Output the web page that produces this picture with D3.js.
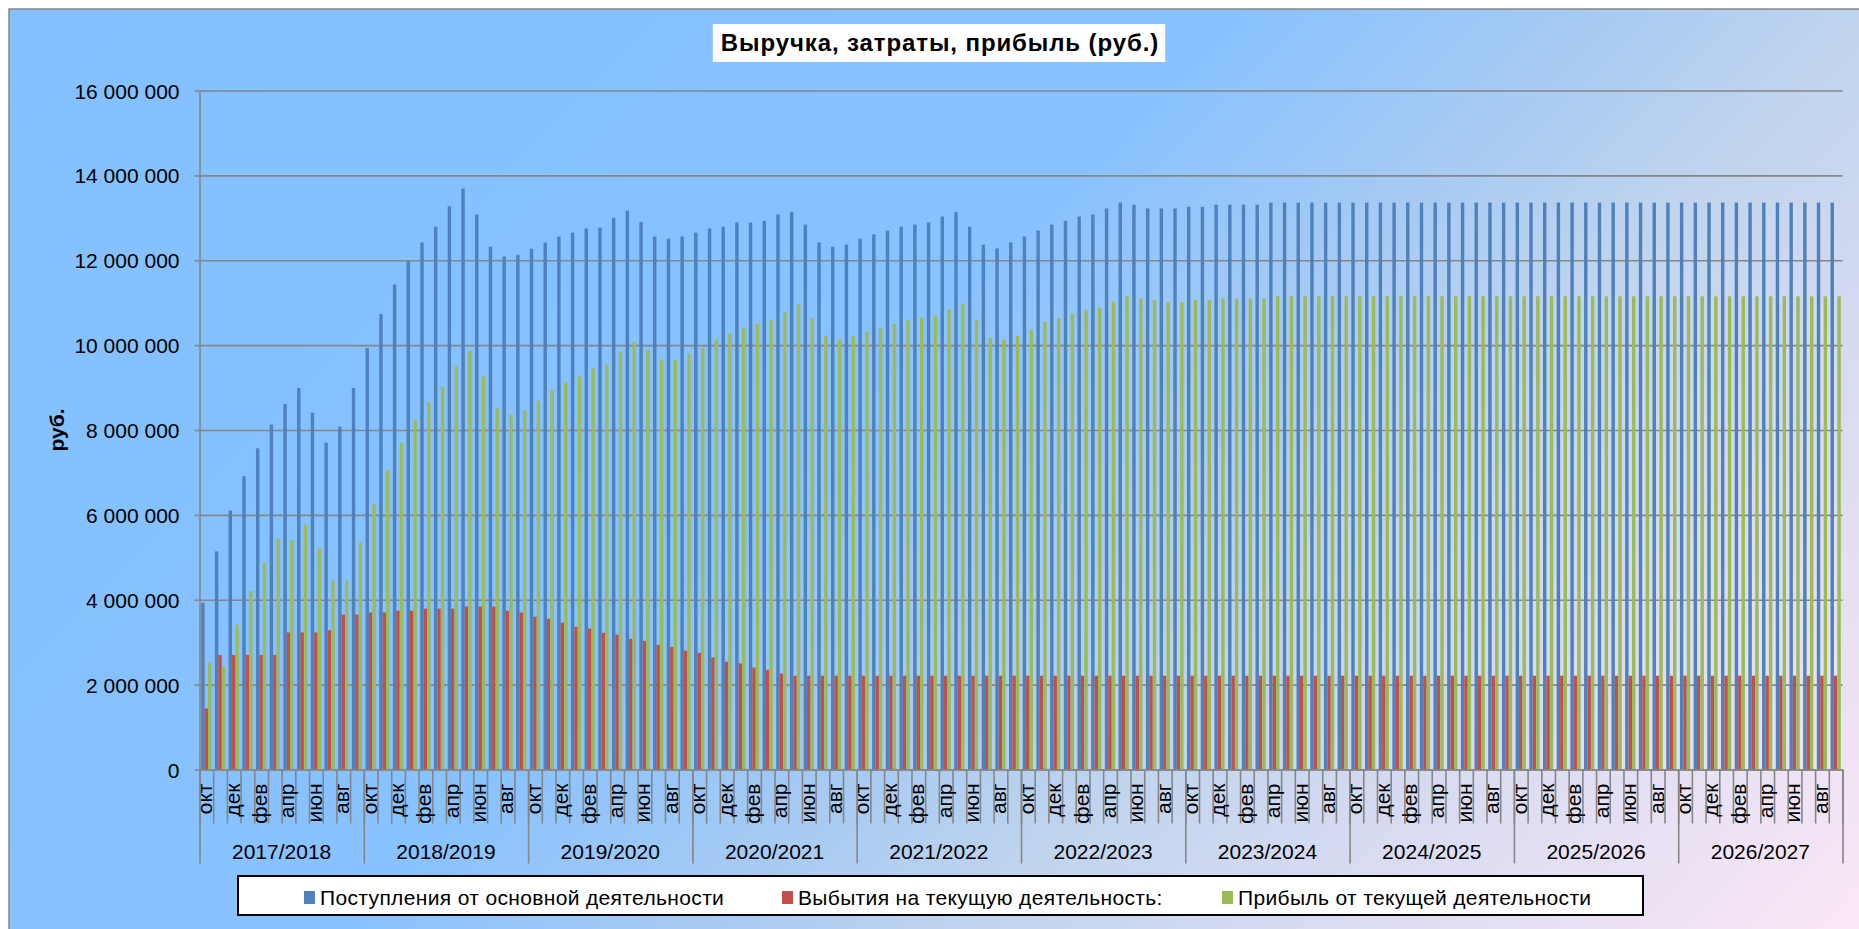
<!DOCTYPE html>
<html>
<head>
<meta charset="utf-8">
<script src="https://cdn.jsdelivr.net/npm/d3@7"></script>
<style>
  html, body { margin: 0; padding: 0; background: #ffffff; }
  svg { display: block; }
  text { font-family: "Liberation Sans", Arial, sans-serif; fill: #000; }
</style>
</head>
<body>
<svg id="chart" width="1859" height="929"></svg>
<script>
// ---------------- DATA ----------------
const titleText = "Выручка, затраты, прибыль (руб.)";
const yAxisTitle = "руб.";
const months = ["окт","ноя","дек","янв","фев","мар","апр","май","июн","июл","авг","сен"];
const years = ["2017/2018","2018/2019","2019/2020","2020/2021","2021/2022",
               "2022/2023","2023/2024","2024/2025","2025/2026","2026/2027"];
const seriesNames = ["Поступления от основной деятельности",
                     "Выбытия на текущую деятельность:",
                     "Прибыль от текущей деятельности"];
const yTicks = [0, 2000000, 4000000, 6000000, 8000000, 10000000, 12000000, 14000000, 16000000];

// Поступления от основной деятельности (12 values per fiscal year)
const revenue = [
  3930000, 5140000, 6100000, 6910000, 7570000, 8130000, 8610000, 8990000, 8410000, 7700000, 8080000, 8990000,
  9930000, 10730000, 11430000, 11980000, 12420000, 12790000, 13270000, 13690000, 13080000, 12320000, 12090000, 12130000,
  12270000, 12420000, 12560000, 12650000, 12750000, 12770000, 13000000, 13170000, 12900000, 12560000, 12510000, 12560000,
  12650000, 12750000, 12790000, 12890000, 12890000, 12930000, 13080000, 13140000, 12840000, 12420000, 12320000, 12370000,
  12510000, 12610000, 12700000, 12790000, 12840000, 12890000, 13030000, 13140000, 12790000, 12370000, 12280000, 12420000,
  12560000, 12700000, 12840000, 12930000, 13030000, 13080000, 13220000, 13360000, 13310000, 13220000, 13220000, 13220000,
  13260000, 13260000, 13310000, 13310000, 13310000, 13310000, 13360000, 13360000, 13360000, 13360000, 13360000, 13360000,
  13360000, 13360000, 13360000, 13360000, 13360000, 13360000, 13360000, 13360000, 13360000, 13360000, 13360000, 13360000,
  13360000, 13360000, 13360000, 13360000, 13360000, 13360000, 13360000, 13360000, 13360000, 13360000, 13360000, 13360000,
  13360000, 13360000, 13360000, 13360000, 13360000, 13360000, 13360000, 13360000, 13360000, 13360000, 13360000, 13360000
];

// Выбытия на текущую деятельность
const expenses = [
  1440000, 2700000, 2700000, 2700000, 2700000, 2700000, 3230000, 3230000, 3230000, 3280000, 3650000, 3650000,
  3700000, 3700000, 3740000, 3740000, 3790000, 3790000, 3790000, 3840000, 3840000, 3840000, 3740000, 3700000,
  3600000, 3550000, 3460000, 3360000, 3320000, 3220000, 3180000, 3080000, 3030000, 2940000, 2890000, 2800000,
  2750000, 2640000, 2540000, 2500000, 2400000, 2350000, 2260000, 2210000, 2210000, 2210000, 2210000, 2210000,
  2210000, 2210000, 2210000, 2210000, 2210000, 2210000, 2210000, 2210000, 2210000, 2210000, 2210000, 2210000,
  2210000, 2210000, 2210000, 2210000, 2210000, 2210000, 2210000, 2210000, 2210000, 2210000, 2210000, 2210000,
  2210000, 2210000, 2210000, 2210000, 2210000, 2210000, 2210000, 2210000, 2210000, 2210000, 2210000, 2210000,
  2210000, 2210000, 2210000, 2210000, 2210000, 2210000, 2210000, 2210000, 2210000, 2210000, 2210000, 2210000,
  2210000, 2210000, 2210000, 2210000, 2210000, 2210000, 2210000, 2210000, 2210000, 2210000, 2210000, 2210000,
  2210000, 2210000, 2210000, 2210000, 2210000, 2210000, 2210000, 2210000, 2210000, 2210000, 2210000, 2210000
];

// Прибыль от текущей деятельности
const profit = [
  2520000, 2430000, 3410000, 4210000, 4870000, 5440000, 5400000, 5770000, 5210000, 4450000, 4450000, 5350000,
  6250000, 7050000, 7700000, 8220000, 8650000, 9020000, 9500000, 9870000, 9260000, 8510000, 8360000, 8460000,
  8690000, 8930000, 9120000, 9260000, 9450000, 9540000, 9850000, 10080000, 9890000, 9660000, 9660000, 9800000,
  9940000, 10130000, 10270000, 10410000, 10500000, 10600000, 10780000, 10970000, 10640000, 10220000, 10130000, 10220000,
  10310000, 10410000, 10500000, 10600000, 10640000, 10690000, 10830000, 10970000, 10600000, 10170000, 10130000, 10220000,
  10360000, 10550000, 10640000, 10740000, 10830000, 10880000, 11020000, 11150000, 11100000, 11060000, 11010000, 11010000,
  11060000, 11060000, 11100000, 11100000, 11100000, 11100000, 11150000, 11150000, 11150000, 11150000, 11150000, 11150000,
  11150000, 11150000, 11150000, 11150000, 11150000, 11150000, 11150000, 11150000, 11150000, 11150000, 11150000, 11150000,
  11150000, 11150000, 11150000, 11150000, 11150000, 11150000, 11150000, 11150000, 11150000, 11150000, 11150000, 11150000,
  11150000, 11150000, 11150000, 11150000, 11150000, 11150000, 11150000, 11150000, 11150000, 11150000, 11150000, 11150000
];

// ---------------- STYLE / LAYOUT ----------------
const colors = ["#4f81bd", "#c0504d", "#9bbb59"];
const gridColor = "#868686";
const plot = { left: 199.5, right: 1842.5, top: 90.5, bottom: 769.5 };
const fontSize = 21;

const svg = d3.select("#chart");

// background gradient
const defs = svg.append("defs");
const grad = defs.append("linearGradient")
  .attr("id", "bg").attr("gradientUnits", "userSpaceOnUse")
  .attr("x1", 0).attr("y1", 0).attr("x2", 1414).attr("y2", 1383);
[[0, "#84c0ff"], [0.45, "#88c2ff"], [0.59, "#a9cbf2"], [0.68, "#c0d4ee"], [0.82, "#dcdcf2"], [1, "#fbe7f6"]]
  .forEach(([o, c]) => grad.append("stop").attr("offset", o).attr("stop-color", c));

svg.append("rect").attr("x", 0).attr("y", 0).attr("width", 1859).attr("height", 929).attr("fill", "#ffffff");
svg.append("rect").attr("x", 9).attr("y", 9).attr("width", 1870).attr("height", 940)
  .attr("fill", "url(#bg)").attr("stroke", gridColor).attr("stroke-width", 1.5);

// scales
const categories = d3.range(years.length * months.length);
const x = d3.scaleBand().domain(categories).range([plot.left, plot.right]).paddingInner(0).paddingOuter(0);
const xSub = d3.scaleBand().domain([0, 1, 2]).range([0, x.bandwidth()]).paddingInner(0).paddingOuter(0.5);
const xIdx = d3.scaleLinear().domain([0, categories.length]).range([plot.left, plot.right]);
const xYear = d3.scaleBand().domain(years).range([plot.left, plot.right]);
const y = d3.scaleLinear().domain([0, 16000000]).range([plot.bottom, plot.top]);

const fmt = v => d3.format(",")(v).replace(/,/g, " ");

// gridlines
const grid = svg.append("g").attr("transform", `translate(${plot.left},0)`)
  .call(d3.axisLeft(y).tickValues(yTicks).tickSize(-(plot.right - plot.left)).tickFormat(""));
grid.select(".domain").remove();
grid.selectAll("line").attr("stroke", gridColor).attr("stroke-width", 1.6);

// y axis
const yAxis = svg.append("g").attr("transform", `translate(${plot.left},0)`)
  .call(d3.axisLeft(y).tickValues(yTicks).tickSize(5).tickSizeOuter(0).tickPadding(15).tickFormat(fmt));
yAxis.select(".domain").attr("stroke", gridColor).attr("stroke-width", 1.6);
yAxis.selectAll("line").attr("stroke", gridColor).attr("stroke-width", 1.6);
yAxis.selectAll("text").attr("font-size", fontSize).attr("font-family", "Liberation Sans, Arial, sans-serif")
  .attr("fill", "#000").attr("dy", "0.36em");

svg.append("text").attr("transform", `translate(57,${(plot.top + plot.bottom) / 2}) rotate(-90)`)
  .attr("text-anchor", "middle").attr("dy", "0.35em")
  .attr("font-size", fontSize).attr("font-weight", "bold").text(yAxisTitle);

// bars
const seriesData = [revenue, expenses, profit];
seriesData.forEach((vals, s) => {
  svg.append("g").selectAll("rect").data(vals).join("rect")
    .attr("x", (d, i) => x(i) + xSub(s))
    .attr("width", xSub.bandwidth())
    .attr("y", d => y(d))
    .attr("height", d => y(0) - y(d))
    .attr("fill", colors[s]);
});

// x axis: category ticks
const xTicks = svg.append("g").attr("transform", `translate(0,${plot.bottom})`)
  .call(d3.axisBottom(xIdx).tickValues(d3.range(0, categories.length + 1)).tickSize(54).tickSizeOuter(0).tickFormat(""));
xTicks.select(".domain").attr("stroke", gridColor).attr("stroke-width", 1.6);
xTicks.selectAll("line").attr("stroke", gridColor).attr("stroke-width", 1.6);

// year separators
const yearSep = svg.append("g").attr("transform", `translate(0,${plot.bottom})`)
  .call(d3.axisBottom(xIdx).tickValues(d3.range(0, categories.length + 1, months.length)).tickSize(94).tickSizeOuter(0).tickFormat(""));
yearSep.select(".domain").remove();
yearSep.selectAll("line").attr("stroke", gridColor).attr("stroke-width", 1.6);

// month labels (every other)
const monthAxis = svg.append("g").attr("transform", `translate(0,${plot.bottom})`)
  .call(d3.axisBottom(x).tickValues(categories.filter(i => i % 2 === 0)).tickSize(0)
        .tickFormat(i => months[i % months.length]));
monthAxis.select(".domain").remove();
monthAxis.selectAll("text")
  .attr("transform", "rotate(-90)").attr("x", -14).attr("y", 0).attr("dy", "0.28em")
  .attr("text-anchor", "end").attr("font-size", fontSize)
  .attr("font-family", "Liberation Sans, Arial, sans-serif").attr("fill", "#000");

// year labels
const yearAxis = svg.append("g").attr("transform", `translate(0,${plot.bottom})`)
  .call(d3.axisBottom(xYear).tickSize(0));
yearAxis.select(".domain").remove();
yearAxis.selectAll("text").attr("y", 89.5).attr("dy", 0)
  .attr("font-size", fontSize).attr("font-family", "Liberation Sans, Arial, sans-serif").attr("fill", "#000");

// title
const titleG = svg.append("g");
const titleBg = titleG.append("rect").attr("fill", "#ffffff");
const title = titleG.append("text").attr("x", 940).attr("y", 43).attr("text-anchor", "middle")
  .attr("dy", "0.35em").attr("font-size", 24).attr("letter-spacing", 0.9)
  .attr("font-weight", "bold").text(titleText);
const tb = title.node().getBBox();
titleBg.attr("x", tb.x - 8).attr("y", 24).attr("width", tb.width + 14).attr("height", 38);

// legend
const legend = svg.append("g");
legend.append("rect").attr("x", 238).attr("y", 876).attr("width", 1405).attr("height", 39)
  .attr("fill", "#ffffff").attr("stroke", "#000").attr("stroke-width", 2);
const legendX = [304, 782, 1222];
seriesNames.forEach((name, s) => {
  legend.append("rect").attr("x", legendX[s]).attr("y", 891).attr("width", 11).attr("height", 13).attr("fill", colors[s]);
  legend.append("text").attr("x", legendX[s] + 16).attr("y", 897.5).attr("dy", "0.35em")
    .attr("font-size", fontSize).attr("letter-spacing", 0.35).text(name);
});
</script>
</body>
</html>
